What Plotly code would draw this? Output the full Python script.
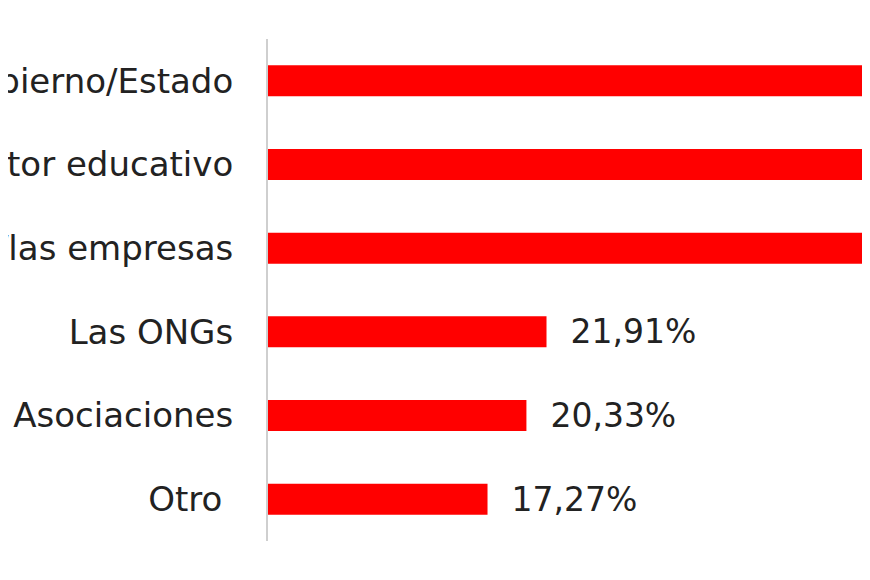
import plotly.graph_objects as go

categories = [
    "El Gobierno/Estado",
    "El sector educativo",
    "Los empresarios/las empresas",
    "Las ONGs",
    "Fundaciones y Asociaciones",
    "Otro\u00a0",
]
values = [66.40, 58.20, 51.50, 21.91, 20.33, 17.27]

x_max = 46.73  # visible part of the value axis (the chart is cropped on the right)

labels = [
    ("\u00a0\u00a0" + f"{v:.2f}".replace(".", ",") + "%") if v < x_max else ""
    for v in values
]

fig = go.Figure(
    go.Bar(
        x=values,
        y=categories,
        orientation="h",
        marker=dict(color="#ff0000", line=dict(width=0)),
        width=0.37,
        text=labels,
        textposition="outside",
        constraintext="none",
        textfont=dict(family="DejaVu Sans", size=33, color="#222222"),
        cliponaxis=True,
    )
)

fig.update_layout(
    template="none",
    width=854,
    height=562,
    margin=dict(l=260, r=0, t=31, b=29, pad=0),
    paper_bgcolor="white",
    plot_bgcolor="white",
    showlegend=False,
    font=dict(family="DejaVu Sans", size=34, color="#222222"),
    xaxis=dict(
        range=[0, x_max],
        visible=False,
        showgrid=False,
        zeroline=False,
        automargin=False,
    ),
    yaxis=dict(
        categoryorder="array",
        categoryarray=categories[::-1],
        showgrid=False,
        zeroline=False,
        showline=True,
        linecolor="#cfcfcf",
        linewidth=2,
        ticks="",
        ticklabelstandoff=26,
        automargin=False,
        tickfont=dict(family="DejaVu Sans", size=34, color="#222222"),
    ),
)

fig.write_html("out.html")
